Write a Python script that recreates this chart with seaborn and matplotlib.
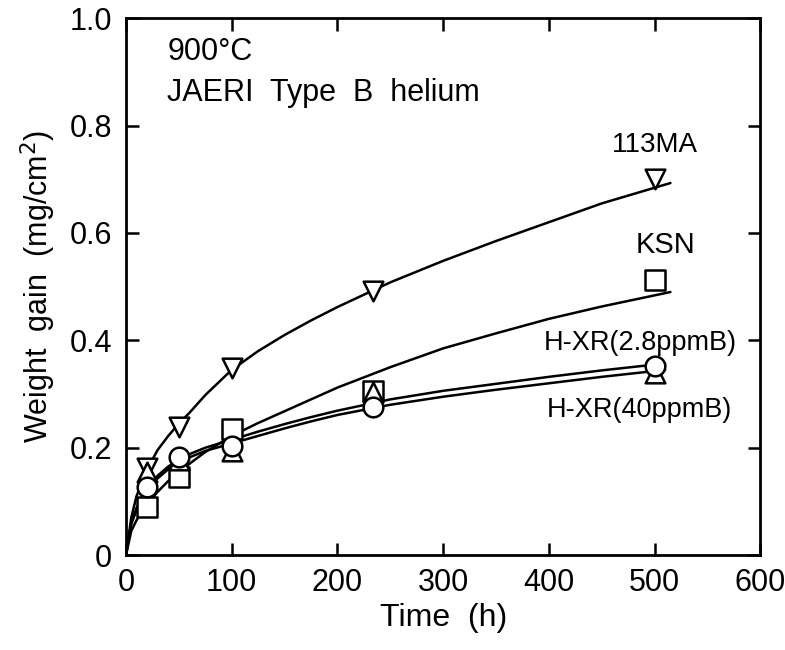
import pandas as pd
import seaborn as sns
import matplotlib.pyplot as plt

t_points = [20, 50, 100, 234, 500]
w_113ma = [0.162, 0.238, 0.348, 0.492, 0.700]
w_ksn = [0.090, 0.145, 0.234, 0.305, 0.512]
w_hxr28 = [0.127, 0.183, 0.203, 0.276, 0.352]
w_hxr40 = [0.155, 0.178, 0.193, 0.303, 0.339]

# Courbes lissees tracees a la main sur l'original
t_fit = [0, 5, 10, 20, 30, 40, 50, 60, 75, 100, 125, 150, 175, 200, 250, 300, 350, 400, 450, 515]
fit_113ma = [0, 0.070, 0.110, 0.160, 0.196, 0.222, 0.245, 0.265, 0.298, 0.345, 0.380, 0.410,
             0.437, 0.462, 0.508, 0.548, 0.585, 0.620, 0.655, 0.693]
fit_ksn = [0, 0.045, 0.065, 0.095, 0.118, 0.138, 0.156, 0.170, 0.192, 0.222, 0.246, 0.268,
           0.290, 0.312, 0.350, 0.385, 0.413, 0.440, 0.463, 0.490]
t_fit_hxr = [0, 5, 10, 20, 30, 40, 50, 60, 75, 100, 125, 150, 175, 200, 250, 300, 350, 400, 450, 510]
fit_hxr28 = [0, 0.060, 0.088, 0.125, 0.148, 0.165, 0.178, 0.188, 0.200, 0.215, 0.230, 0.244,
             0.257, 0.269, 0.290, 0.306, 0.319, 0.332, 0.344, 0.357]
fit_hxr40 = [0, 0.058, 0.084, 0.120, 0.143, 0.160, 0.172, 0.182, 0.194, 0.208, 0.222, 0.236,
             0.249, 0.261, 0.280, 0.295, 0.308, 0.320, 0.332, 0.345]

x_ticks = [0, 100, 200, 300, 400, 500, 600]
y_ticks = [0, 0.2, 0.4, 0.6, 0.8, 1.0]
y_tick_labels = ["0", "0.2", "0.4", "0.6", "0.8", "1.0"]

sns.set_style("ticks")
plt.rcParams["font.family"] = ["Liberation Sans", "DejaVu Sans"]
plt.rcParams["text.color"] = "black"
plt.rcParams["axes.labelcolor"] = "black"

fig = plt.figure(figsize=(7.85, 6.5), dpi=100)
ax = fig.add_axes([0.1605, 0.146, 0.808, 0.826])

# Courbes
curves = [
    (t_fit, fit_113ma),
    (t_fit, fit_ksn),
    (t_fit_hxr, fit_hxr28),
    (t_fit_hxr, fit_hxr40),
]
for tx, wy in curves:
    df = pd.DataFrame({"t": tx, "w": wy})
    sns.lineplot(data=df, x="t", y="w", ax=ax, color="black", linewidth=1.8,
                 sort=False, estimator=None, zorder=2)

# Marqueurs ouverts
series = [
    (w_113ma, "v"),
    (w_ksn, "s"),
    (w_hxr40, "^"),
    (w_hxr28, "o"),
]
for wy, mk in series:
    df = pd.DataFrame({"t": t_points, "w": wy})
    sns.scatterplot(data=df, x="t", y="w", ax=ax, marker=mk, s=200,
                    facecolor="white", edgecolor="black", linewidth=1.8, zorder=3)

ax.set_xlim(0, 600)
ax.set_ylim(0, 1.0)
ax.set_xticks(x_ticks)
ax.set_xticklabels([str(v) for v in x_ticks])
ax.set_yticks(y_ticks)
ax.set_yticklabels(y_tick_labels)
ax.tick_params(direction="in", length=9, width=1.8, labelsize=22,
               top=True, right=True, colors="black")
ax.tick_params(axis="y", pad=10)
ax.tick_params(axis="x", pad=9)
for sp in ax.spines.values():
    sp.set_linewidth(2)
    sp.set_color("black")

ax.set_xlabel("Time  (h)", fontsize=23, labelpad=4)
ax.set_ylabel("Weight  gain  (mg/cm$^2$)", fontsize=22, labelpad=8)

# Annotations
ax.text(39, 0.937, "900°C", fontsize=22, va="center", ha="left")
ax.text(39, 0.860, "JAERI  Type  B  helium", fontsize=22, va="center", ha="left")
ax.text(500, 0.763, "113MA", fontsize=20, va="center", ha="center")
ax.text(510, 0.577, "KSN", fontsize=21, va="center", ha="center")
ax.text(486, 0.395, "H-XR(2.8ppmB)", fontsize=19.5, va="center", ha="center")
ax.text(486, 0.270, "H-XR(40ppmB)", fontsize=19.5, va="center", ha="center")

fig.savefig("out.png", dpi=100, facecolor="white")
